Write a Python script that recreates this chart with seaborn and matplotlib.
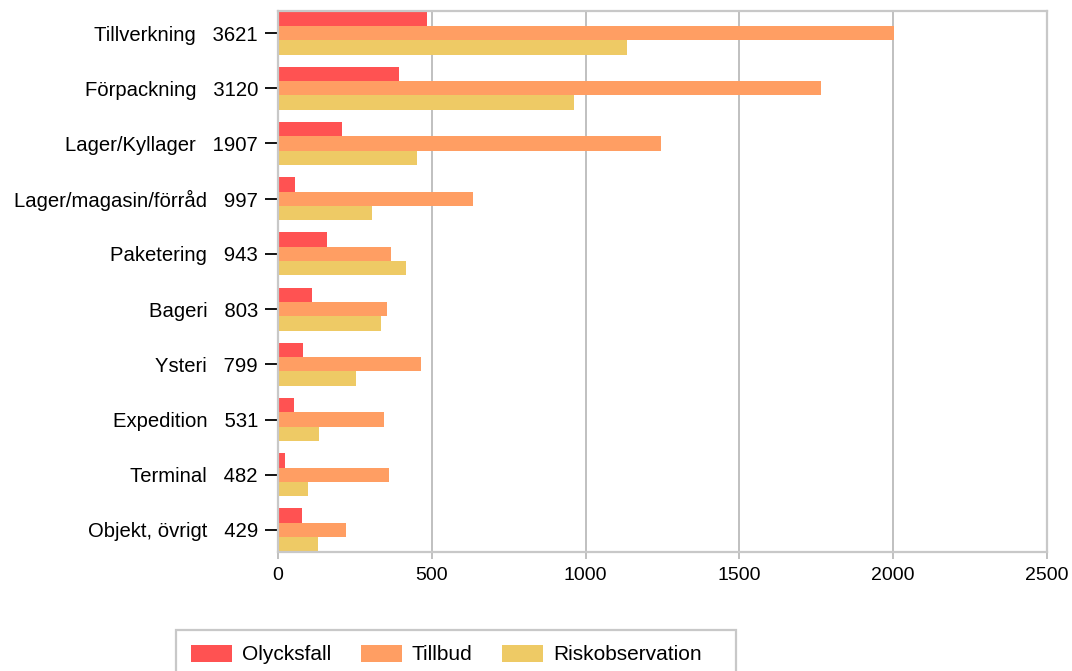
import matplotlib
matplotlib.use('Agg')
import matplotlib.pyplot as plt
from matplotlib.patches import Rectangle
import pandas as pd
import seaborn as sns

categories = ['Tillverkning', 'Förpackning', 'Lager/Kyllager', 'Lager/magasin/förråd',
              'Paketering', 'Bageri', 'Ysteri', 'Expedition', 'Terminal', 'Objekt, övrigt']
totals = [3621, 3120, 1907, 997, 943, 803, 799, 531, 482, 429]
olycksfall = [485, 394, 208, 55, 160, 112, 80, 53, 24, 78]
tillbud = [2001, 1765, 1246, 635, 367, 355, 465, 346, 360, 220]
riskobservation = [1135, 961, 453, 307, 416, 336, 254, 132, 98, 131]
series_names = ['Olycksfall', 'Tillbud', 'Riskobservation']
colors = ['#FF5252', '#FF9E63', '#EECA65']

labels = [f'{c}   {t}' for c, t in zip(categories, totals)]
rows = []
for name, vals in zip(series_names, [olycksfall, tillbud, riskobservation]):
    for lab, v in zip(labels, vals):
        rows.append({'label': lab, 'typ': name, 'antal': v})
df = pd.DataFrame(rows)

sns.set_style('white')
plt.rcParams['font.family'] = ['Liberation Sans', 'DejaVu Sans']
plt.rcParams['text.color'] = 'black'
plt.rcParams['xtick.labelcolor'] = 'black'
plt.rcParams['ytick.labelcolor'] = 'black'

W, H = 1072, 671
fig = plt.figure(figsize=(W / 100, H / 100), dpi=100)
ax = fig.add_axes([278 / W, 1 - 552 / H, (1047 - 278) / W, (552 - 11) / H])

sns.barplot(data=df, x='antal', y='label', hue='typ', order=labels, hue_order=series_names,
            palette=colors, orient='h', width=0.78, saturation=1, ax=ax, linewidth=0)

ax.set_xlim(0, 2500)
ax.set_ylim(9.4, -0.4)
ax.set_xticks([0, 500, 1000, 1500, 2000, 2500])
ax.set_xlabel('')
ax.set_ylabel('')
ax.grid(axis='x', color='#C0C0C0', linewidth=1.4)
ax.set_axisbelow(True)
for s in ax.spines.values():
    s.set_visible(True)
    s.set_color('#C8C8C8')
    s.set_linewidth(1.6)

ax.tick_params(axis='y', length=9.4, width=1.3, color='black', pad=5, labelsize=14.6, left=True)
ax.tick_params(axis='x', length=5, width=1.4, color='#C0C0C0', pad=6, labelsize=14, bottom=True)

handles, names = ax.get_legend_handles_labels()
ax.get_legend().remove()
fig.legend(handles, names, loc='upper left', bbox_to_anchor=(176 / W, 1 - 630 / H),
           ncol=3, frameon=False, fontsize=15, borderaxespad=0,
           borderpad=0.7, handlelength=1.97, handleheight=0.88, handletextpad=0.48,
           columnspacing=1.43)
# legend box, wider than the entries, cut by the bottom edge
fig.patches.append(Rectangle((176 / W, -0.05), (736 - 176) / W, 0.05 + 41 / H,
                             transform=fig.transFigure, fill=False,
                             edgecolor='#C8C8C8', linewidth=1.6))

fig.savefig('out.png', dpi=100)
